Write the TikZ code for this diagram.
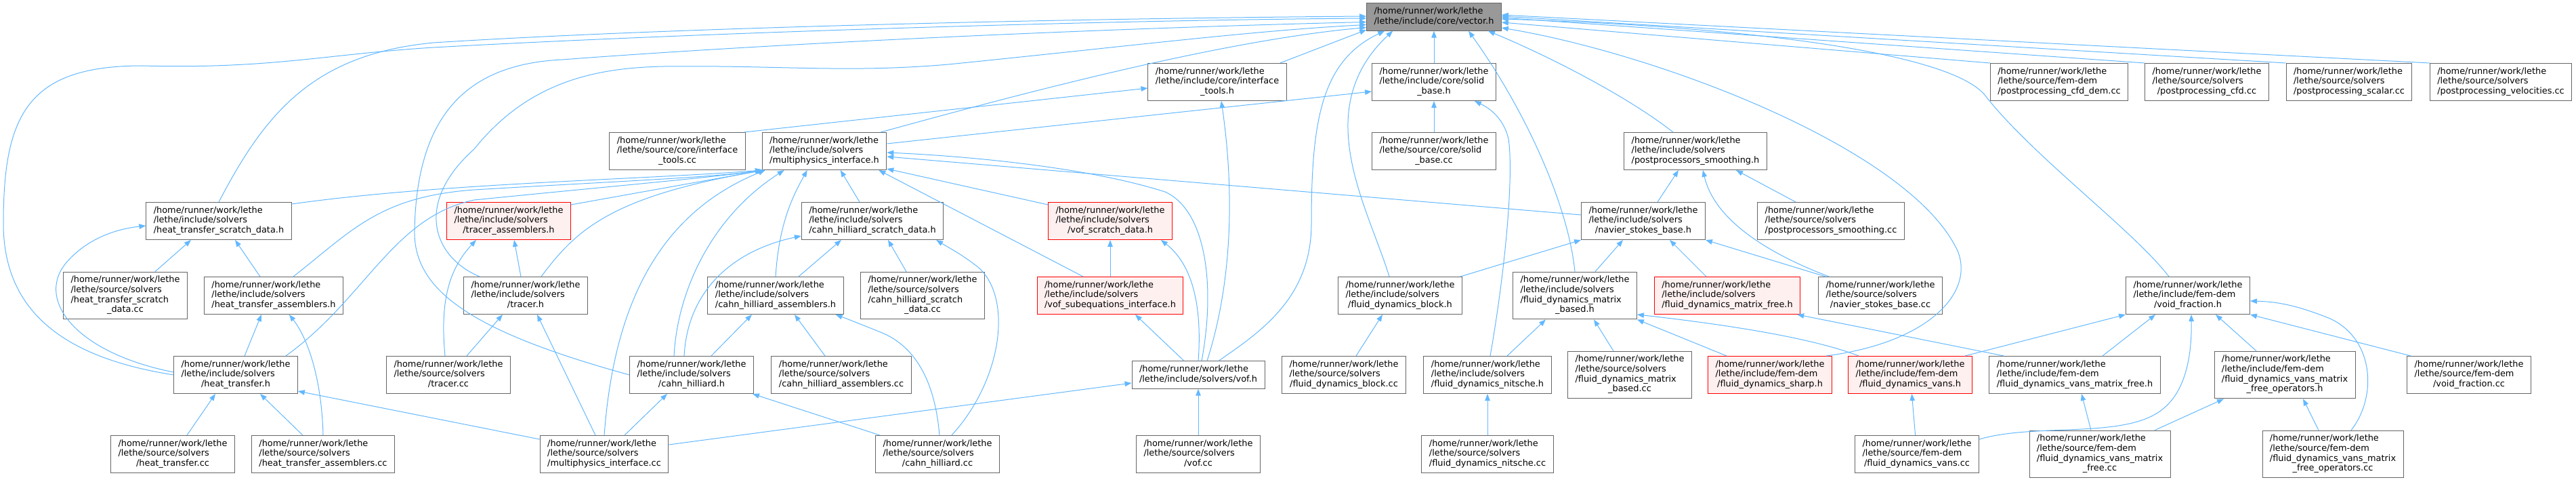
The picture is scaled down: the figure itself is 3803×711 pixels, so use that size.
\documentclass[tikz,border=0pt]{standalone}
\usepackage{fontspec}
\setmainfont{DejaVu Sans}
\usepackage{tikz}
\usetikzlibrary{arrows.meta}
\definecolor{edgeblue}{HTML}{63B8FF}
\definecolor{boxline}{HTML}{666666}
\definecolor{rootfill}{HTML}{999999}
\definecolor{truncfill}{HTML}{FFF0F0}
\definecolor{truncline}{HTML}{FF0000}
\newcommand{\flab}[2]{\begin{tabular}{@{}l@{}}#1\\\multicolumn{1}{@{}c@{}}{#2}\end{tabular}}
\tikzset{
  filebox/.style={draw=boxline, fill=white, line width=0.9pt, inner xsep=11pt, inner ysep=5.5pt, font=\fontsize{12.9}{14.7}\selectfont},
  rootbox/.style={filebox, fill=rootfill},
  truncbox/.style={filebox, draw=truncline, fill=truncfill},
  arrow/.style={-{Triangle[length=10pt, width=7.5pt]}, line width=1pt, draw=edgeblue}
}
\begin{document}
\begin{tikzpicture}[x=1pt, y=-1pt]
  \useasboundingbox (0,0) rectangle (3803,711);

  \node[rootbox] (vector) at (2117,25) {\flab{/home/runner/work/lethe}{/lethe/include/core/vector.h}};

  \node[filebox] (itools_h) at (1797,121) {\flab{/home/runner/work/lethe\\/lethe/include/core/interface}{\_tools.h}};
  \node[filebox] (solid_h) at (2117,121) {\flab{/home/runner/work/lethe\\/lethe/include/core/solid}{\_base.h}};
  \node[filebox] (ppcfddem_cc) at (3040,121) {\flab{/home/runner/work/lethe\\/lethe/source/fem-dem}{/postprocessing\_cfd\_dem.cc}};
  \node[filebox] (ppcfd_cc) at (3258,121) {\flab{/home/runner/work/lethe\\/lethe/source/solvers}{/postprocessing\_cfd.cc}};
  \node[filebox] (ppscalar_cc) at (3468,121) {\flab{/home/runner/work/lethe\\/lethe/source/solvers}{/postprocessing\_scalar.cc}};
  \node[filebox] (ppvel_cc) at (3692,121) {\flab{/home/runner/work/lethe\\/lethe/source/solvers}{/postprocessing\_velocities.cc}};

  \node[filebox] (itools_cc) at (1000,223) {\flab{/home/runner/work/lethe\\/lethe/source/core/interface}{\_tools.cc}};
  \node[filebox] (mpi_h) at (1217,223) {\flab{/home/runner/work/lethe\\/lethe/include/solvers}{/multiphysics\_interface.h}};
  \node[filebox] (solid_cc) at (2117,223) {\flab{/home/runner/work/lethe\\/lethe/source/core/solid}{\_base.cc}};
  \node[filebox] (pps_h) at (2503,223) {\flab{/home/runner/work/lethe\\/lethe/include/solvers}{/postprocessors\_smoothing.h}};

  \node[filebox] (ht_scratch_h) at (323,326) {\flab{/home/runner/work/lethe\\/lethe/include/solvers}{/heat\_transfer\_scratch\_data.h}};
  \node[truncbox] (tracer_asm_h) at (751,326) {\flab{/home/runner/work/lethe\\/lethe/include/solvers}{/tracer\_assemblers.h}};
  \node[filebox] (ch_scratch_h) at (1288,326) {\flab{/home/runner/work/lethe\\/lethe/include/solvers}{/cahn\_hilliard\_scratch\_data.h}};
  \node[truncbox] (vof_scratch_h) at (1639,326) {\flab{/home/runner/work/lethe\\/lethe/include/solvers}{/vof\_scratch\_data.h}};
  \node[filebox] (nsb_h) at (2426,326) {\flab{/home/runner/work/lethe\\/lethe/include/solvers}{/navier\_stokes\_base.h}};
  \node[filebox] (pps_cc) at (2703,326) {\flab{/home/runner/work/lethe\\/lethe/source/solvers}{/postprocessors\_smoothing.cc}};

  \node[filebox] (ht_scratch_cc) at (185,436) {\flab{/home/runner/work/lethe\\/lethe/source/solvers\\/heat\_transfer\_scratch}{\_data.cc}};
  \node[filebox] (ht_asm_h) at (404,436) {\flab{/home/runner/work/lethe\\/lethe/include/solvers}{/heat\_transfer\_assemblers.h}};
  \node[filebox] (tracer_h) at (776,436) {\flab{/home/runner/work/lethe\\/lethe/include/solvers}{/tracer.h}};
  \node[filebox] (ch_asm_h) at (1145,436) {\flab{/home/runner/work/lethe\\/lethe/include/solvers}{/cahn\_hilliard\_assemblers.h}};
  \node[filebox] (ch_scratch_cc) at (1362,436) {\flab{/home/runner/work/lethe\\/lethe/source/solvers\\/cahn\_hilliard\_scratch}{\_data.cc}};
  \node[truncbox] (vof_subeq_h) at (1639,436) {\flab{/home/runner/work/lethe\\/lethe/include/solvers}{/vof\_subequations\_interface.h}};
  \node[filebox] (fdb_h) at (2067,436) {\flab{/home/runner/work/lethe\\/lethe/include/solvers}{/fluid\_dynamics\_block.h}};
  \node[filebox] (fdmb_h) at (2325,436) {\flab{/home/runner/work/lethe\\/lethe/include/solvers\\/fluid\_dynamics\_matrix}{\_based.h}};
  \node[truncbox] (fdmf_h) at (2550,436) {\flab{/home/runner/work/lethe\\/lethe/include/solvers}{/fluid\_dynamics\_matrix\_free.h}};
  \node[filebox] (nsb_cc) at (2776,436) {\flab{/home/runner/work/lethe\\/lethe/source/solvers}{/navier\_stokes\_base.cc}};
  \node[filebox] (vf_h) at (3230,436) {\flab{/home/runner/work/lethe\\/lethe/include/fem-dem}{/void\_fraction.h}};

  \node[filebox] (ht_h) at (348,553) {\flab{/home/runner/work/lethe\\/lethe/include/solvers}{/heat\_transfer.h}};
  \node[filebox] (tracer_cc) at (662,553) {\flab{/home/runner/work/lethe\\/lethe/source/solvers}{/tracer.cc}};
  \node[filebox] (ch_h) at (1021,553) {\flab{/home/runner/work/lethe\\/lethe/include/solvers}{/cahn\_hilliard.h}};
  \node[filebox] (ch_asm_cc) at (1242,553) {\flab{/home/runner/work/lethe\\/lethe/source/solvers}{/cahn\_hilliard\_assemblers.cc}};
  \node[filebox] (vof_h) at (1769,553) {\flab{/home/runner/work/lethe}{/lethe/include/solvers/vof.h}};
  \node[filebox] (fdb_cc) at (1984,553) {\flab{/home/runner/work/lethe\\/lethe/source/solvers}{/fluid\_dynamics\_block.cc}};
  \node[filebox] (fdn_h) at (2196,553) {\flab{/home/runner/work/lethe\\/lethe/include/solvers}{/fluid\_dynamics\_nitsche.h}};
  \node[filebox] (fdmb_cc) at (2406,553) {\flab{/home/runner/work/lethe\\/lethe/source/solvers\\/fluid\_dynamics\_matrix}{\_based.cc}};
  \node[truncbox] (fds_h) at (2613,553) {\flab{/home/runner/work/lethe\\/lethe/include/fem-dem}{/fluid\_dynamics\_sharp.h}};
  \node[truncbox] (fdv_h) at (2820,553) {\flab{/home/runner/work/lethe\\/lethe/include/fem-dem}{/fluid\_dynamics\_vans.h}};
  \node[filebox] (fdvmf_h) at (3063,553) {\flab{/home/runner/work/lethe\\/lethe/include/fem-dem}{/fluid\_dynamics\_vans\_matrix\_free.h}};
  \node[filebox] (fdvmfo_h) at (3373,553) {\flab{/home/runner/work/lethe\\/lethe/include/fem-dem\\/fluid\_dynamics\_vans\_matrix}{\_free\_operators.h}};
  \node[filebox] (vf_cc) at (3645,553) {\flab{/home/runner/work/lethe\\/lethe/source/fem-dem}{/void\_fraction.cc}};

  \node[filebox] (ht_cc) at (255,670) {\flab{/home/runner/work/lethe\\/lethe/source/solvers}{/heat\_transfer.cc}};
  \node[filebox] (ht_asm_cc) at (477,670) {\flab{/home/runner/work/lethe\\/lethe/source/solvers}{/heat\_transfer\_assemblers.cc}};
  \node[filebox] (mpi_cc) at (892,670) {\flab{/home/runner/work/lethe\\/lethe/source/solvers}{/multiphysics\_interface.cc}};
  \node[filebox] (ch_cc) at (1384,670) {\flab{/home/runner/work/lethe\\/lethe/source/solvers}{/cahn\_hilliard.cc}};
  \node[filebox] (vof_cc) at (1769,670) {\flab{/home/runner/work/lethe\\/lethe/source/solvers}{/vof.cc}};
  \node[filebox] (fdn_cc) at (2196,670) {\flab{/home/runner/work/lethe\\/lethe/source/solvers}{/fluid\_dynamics\_nitsche.cc}};
  \node[filebox] (fdv_cc) at (2830,670) {\flab{/home/runner/work/lethe\\/lethe/source/fem-dem}{/fluid\_dynamics\_vans.cc}};
  \node[filebox] (fdvmf_cc) at (3100,670) {\flab{/home/runner/work/lethe\\/lethe/source/fem-dem\\/fluid\_dynamics\_vans\_matrix}{\_free.cc}};
  \node[filebox] (fdvmfo_cc) at (3444,670) {\flab{/home/runner/work/lethe\\/lethe/source/fem-dem\\/fluid\_dynamics\_vans\_matrix}{\_free\_operators.cc}};

  \draw[arrow] (ht_h.west) .. controls (110,530) and (5,470) .. (5,330) .. controls (5,170) and (40,97) .. (210,97) .. controls (400,102) and (480,80) .. (640,70) .. controls (1000,50) and (1600,30) .. ([yshift=-2pt]vector.west);
  \draw[arrow] (ht_scratch_h.north) .. controls (390,170) and (460,80) .. (640,63) .. controls (1000,40) and (1600,27) .. ([yshift=1pt]vector.west);
  \draw[arrow] (ch_h.west) .. controls (700,490) and (610,430) .. (612,340) .. controls (615,180) and (680,95) .. (830,88) .. controls (1200,60) and (1700,40) .. ([yshift=-7.5pt]vector.west);
  \draw[arrow] ([xshift=24pt]tracer_h.north west) .. controls (640,380) and (610,300) .. (700,220) .. controls (780,120) and (880,100) .. (980,98) .. controls (1150,96) and (1250,108) .. (1400,95) .. controls (1650,70) and (1850,45) .. ([yshift=-11.5pt]vector.west);
  \draw[arrow] ([xshift=-9pt]mpi_h.north east) .. controls (1500,140) and (1800,60) .. ([yshift=-15.5pt]vector.west);
  \draw[arrow] ([xshift=-10pt]itools_h.north east) -- ([yshift=-19pt]vector.west);
  \draw[arrow] (solid_h) -- (vector);
  \draw[arrow] ([xshift=30pt]vof_h.north) .. controls (1860,490) and (1936,440) .. (1936,330) .. controls (1936,180) and (1950,90) .. ([xshift=27pt]vector.south west);
  \draw[arrow] ([xshift=-16pt]fdb_h.north) .. controls (2030,340) and (1988,260) .. (1990,180) .. controls (1992,110) and (2030,70) .. ([xshift=39pt]vector.south west);
  \draw[arrow] (fdmb_h.north) .. controls (2315,300) and (2250,160) .. ([xshift=51pt]vector.south);
  \draw[arrow] ([xshift=-33pt]pps_h.north) .. controls (2400,140) and (2280,80) .. ([xshift=-20pt]vector.south east);
  \draw[arrow] ([xshift=-9pt]fds_h.north east) .. controls (2850,505) and (2915,430) .. (2890,370) .. controls (2820,220) and (2450,80) .. ([yshift=-16pt]vector.east);
  \draw[arrow] ([xshift=-28pt]vf_h.north) .. controls (3150,340) and (3000,230) .. (2930,140) .. controls (2880,80) and (2600,40) .. ([yshift=-3pt]vector.east);
  \draw[arrow] (ppcfddem_cc.north west) -- ([yshift=-8pt]vector.east);
  \draw[arrow] (ppcfd_cc.north west) -- ([yshift=-1pt]vector.east);
  \draw[arrow] (ppscalar_cc.north west) -- ([yshift=1pt]vector.east);
  \draw[arrow] (ppvel_cc.north west) -- ([yshift=3pt]vector.east);

  \draw[arrow] ([yshift=-3pt]ht_scratch_h.north east) .. controls (650,270) and (950,265) .. (mpi_h.south west);
  \draw[arrow] ([xshift=29pt]ht_asm_h.north) .. controls (520,340) and (560,290) .. (700,280) .. controls (900,268) and (1050,262) .. ([xshift=1pt]mpi_h.south west);
  \draw[arrow] ([xshift=74pt]ht_h.north) .. controls (540,440) and (580,320) .. (700,295) .. controls (900,275) and (1050,262) .. ([xshift=2pt]mpi_h.south west);
  \draw[arrow] ([yshift=-4pt]tracer_asm_h.north east) -- ([xshift=3pt]mpi_h.south west);
  \draw[arrow] ([xshift=23pt]tracer_h.north) .. controls (850,340) and (900,290) .. ([xshift=4pt]mpi_h.south west);
  \draw[arrow] (mpi_cc.north) .. controls (905,470) and (960,320) .. ([xshift=5pt]mpi_h.south west);
  \draw[arrow] ([xshift=-26pt]ch_h.north) .. controls (1000,430) and (1050,320) .. ([xshift=33pt]mpi_h.south west);
  \draw[arrow] (ch_asm_h.north) .. controls (1150,330) and (1170,290) .. ([xshift=67pt]mpi_h.south west);
  \draw[arrow] ([xshift=-19pt]ch_scratch_h.north) -- ([xshift=116pt]mpi_h.south west);
  \draw[arrow] ([yshift=-4pt]vof_scratch_h.north west) -- ([yshift=2pt]mpi_h.south east);
  \draw[arrow] ([xshift=-40pt]vof_subeq_h.north) -- ([xshift=-12pt]mpi_h.south east);
  \draw[arrow] ([xshift=5pt]vof_h.north) .. controls (1795,420) and (1780,310) .. (1720,283) .. controls (1600,245) and (1420,230) .. ([yshift=-2pt]mpi_h.east);
  \draw[arrow] ([yshift=9pt]nsb_h.west) -- ([yshift=-8pt]mpi_h.east);
  \draw[arrow] ([yshift=11pt]mpi_h.east) -- ([yshift=-14pt]solid_h.west);
  \draw[arrow] ([xshift=-2pt]itools_cc.north east) -- ([yshift=-9pt]itools_h.west);
  \draw[arrow] (solid_cc) -- (solid_h);

  \draw[arrow] ([xshift=13pt]vof_h.north) .. controls (1815,430) and (1825,300) .. ([xshift=6pt]itools_h.south);
  \draw[arrow] ([xshift=-21pt]vof_h.north) -- ([xshift=37pt]vof_subeq_h.south);
  \draw[arrow] (vof_h.north) .. controls (1775,450) and (1760,390) .. ([xshift=-17pt]vof_scratch_h.south east);
  \draw[arrow] (vof_subeq_h) -- (vof_scratch_h);
  \draw[arrow] (vof_cc) -- (vof_h);
  \draw[arrow] ([yshift=14pt]mpi_cc.east) -- ([yshift=-12pt]vof_h.west);

  \draw[arrow] ([xshift=-7pt]tracer_h.north) -- ([xshift=8pt]tracer_asm_h.south);
  \draw[arrow] ([xshift=27pt]tracer_cc.north) -- ([xshift=-34pt]tracer_h.south);
  \draw[arrow] ([xshift=-5pt]tracer_cc.north) .. controls (650,450) and (660,400) .. ([xshift=-48pt]tracer_asm_h.south);
  \draw[arrow] ([xshift=-13pt]mpi_cc.north) -- ([xshift=17pt]tracer_h.south);

  \draw[arrow] ([xshift=44pt]ht_scratch_cc.north) -- ([xshift=-41pt]ht_scratch_h.south);
  \draw[arrow] ([xshift=-20pt]ht_asm_h.north) -- ([xshift=24pt]ht_scratch_h.south);
  \draw[arrow] ([xshift=13pt]ht_h.north) -- ([xshift=-18pt]ht_asm_h.south);
  \draw[arrow] ([yshift=4pt]ht_h.west) .. controls (110,520) and (50,440) .. (100,385) .. controls (130,352) and (170,338) .. ([yshift=-7pt]ht_scratch_h.west);
  \draw[arrow] ([xshift=21pt]ht_cc.north) -- ([xshift=-30pt]ht_h.south);
  \draw[arrow] ([xshift=-30pt]ht_asm_cc.north) -- ([xshift=36pt]ht_h.south);
  \draw[arrow] (ht_asm_cc.north) .. controls (475,560) and (455,500) .. ([xshift=23pt]ht_asm_h.south);
  \draw[arrow] ([yshift=22pt]mpi_cc.west) -- ([yshift=-24pt]ht_h.east);

  \draw[arrow] ([xshift=34pt]ch_asm_h.north) -- ([xshift=-46pt]ch_scratch_h.south);
  \draw[arrow] ([xshift=29pt]ch_h.north) -- ([xshift=-35pt]ch_asm_h.south);
  \draw[arrow] ([xshift=-24pt]ch_asm_cc.north) -- ([xshift=28pt]ch_asm_h.south);
  \draw[arrow] ([xshift=3pt]ch_cc.north) .. controls (1380,560) and (1350,510) .. (1300,490) .. controls (1270,478) and (1250,470) .. ([xshift=-12pt]ch_asm_h.south east);
  \draw[arrow] ([xshift=21pt]ch_cc.north) .. controls (1480,560) and (1495,440) .. (1445,395) .. controls (1420,375) and (1400,365) .. ([xshift=-11pt]ch_scratch_h.south east);
  \draw[arrow] ([xshift=-85pt]ch_cc.north) -- ([xshift=-2pt]ch_h.south east);
  \draw[arrow] ([xshift=-24pt]ch_scratch_cc.north) -- ([xshift=23pt]ch_scratch_h.south);
  \draw[arrow] ([xshift=30pt]mpi_cc.north) -- ([xshift=-36pt]ch_h.south);
  \draw[arrow] ([xshift=-11pt]ch_h.north) .. controls (1015,430) and (1080,370) .. ([yshift=6pt]ch_scratch_h.south west);

  \draw[arrow] ([xshift=21pt]nsb_h.north) -- ([xshift=-25pt]pps_h.south);
  \draw[arrow] ([xshift=-52pt]pps_cc.north) -- ([xshift=60pt]pps_h.south);
  \draw[arrow] ([xshift=16pt]nsb_cc.north west) .. controls (2600,370) and (2530,320) .. ([xshift=11pt]pps_h.south);
  \draw[arrow] ([xshift=11pt]nsb_cc.north west) -- (nsb_h.south east);
  \draw[arrow] ([xshift=-3pt]fdb_h.north east) -- (nsb_h.south west);
  \draw[arrow] ([xshift=30pt]fdmb_h.north) -- ([xshift=-30pt]nsb_h.south);
  \draw[arrow] ([xshift=-31pt]fdmf_h.north) -- ([xshift=39pt]nsb_h.south);

  \draw[arrow] ([xshift=18pt]fdb_cc.north) -- ([xshift=-26pt]fdb_h.south);
  \draw[arrow] ([xshift=29pt]fdn_h.north) -- ([xshift=-43pt]fdmb_h.south);
  \draw[arrow] ([xshift=4pt]fdn_h.north) .. controls (2222,400) and (2235,260) .. (2227,205) .. controls (2220,175) and (2200,160) .. ([xshift=-32pt]solid_h.south east);
  \draw[arrow] (fdn_cc) -- (fdn_h);
  \draw[arrow] ([xshift=-24pt]fdmb_cc.north) -- ([xshift=28pt]fdmb_h.south);
  \draw[arrow] ([xshift=-64pt]fds_h.north) -- (fdmb_h.south east);
  \draw[arrow] ([xshift=-76pt]fdv_h.north) .. controls (2680,500) and (2560,480) .. ([yshift=-28pt]fdmb_h.east);
  \draw[arrow] ([xshift=22pt]fdvmf_h.north west) -- ([xshift=-5pt]fdmf_h.south east);
  \draw[arrow] ([xshift=-11pt]fdv_h.north east) -- (vf_h.south west);
  \draw[arrow] ([xshift=41pt]fdvmf_h.north) -- ([xshift=44pt]vf_h.south west);
  \draw[arrow] (fdv_cc) -- (fdv_h);
  \draw[arrow] ([yshift=22pt]fdv_cc.east) .. controls (3000,625) and (3120,645) .. (3180,612) .. controls (3225,588) and (3236,530) .. ([xshift=5pt]vf_h.south);
  \draw[arrow] ([xshift=-13pt]fdvmf_cc.north) -- ([xshift=10pt]fdvmf_h.south);
  \draw[arrow] ([xshift=81pt]fdvmf_cc.north) -- ([xshift=-90pt]fdvmfo_h.south);
  \draw[arrow] ([xshift=-42pt]fdvmfo_h.north) -- ([xshift=41pt]vf_h.south);
  \draw[arrow] ([xshift=-21pt]fdvmfo_cc.north) -- ([xshift=27pt]fdvmfo_h.south);
  \draw[arrow] ([xshift=27pt]fdvmfo_cc.north) .. controls (3510,585) and (3505,500) .. (3440,470) .. controls (3395,452) and (3365,445) .. ([yshift=-8pt]vf_h.east);
  \draw[arrow] ([xshift=6pt]vf_cc.north west) -- (vf_h.south east);
\end{tikzpicture}
\end{document}
